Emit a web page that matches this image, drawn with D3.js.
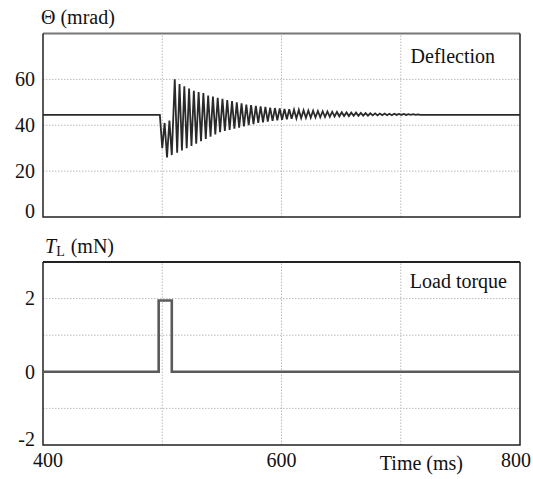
<!DOCTYPE html>
<html>

<head>
  <meta charset="utf-8">
  <style>
    body {
      margin: 0;
      background: #fff;
    }

    svg text {
      font-family: "Liberation Serif", "Times New Roman", serif;
      font-size: 20px;
      fill: #111;
    }

    .grid line {
      stroke: #bbb;
      stroke-width: 1;
      stroke-dasharray: 1.5, 1.5;
    }

    .trace {
      fill: none;
      stroke-linejoin: miter;
    }
  </style>
</head>

<body>
  <svg id="chart" width="533" height="479"></svg>

  <script src="https://d3js.org/d3.v7.min.js"></script>
  <script>
    // time axis
    var timeDomain = [400, 800];
    var timeTicks = [400, 600, 800];
    var timeGrid = [500, 600, 700];

    // deflection (mrad) - extrema
    var deflectionTime = [
      400, 498, 500, 502, 504, 506, 508,
      510.5, 512.5, 514.5, 516.5, 518.5, 520.5, 522.5, 524.5, 526.5, 528.5,
      530.5, 532.5, 534.5, 536.5, 538.5, 540.5, 542.5, 544.5, 546.5, 548.5,
      550.5, 552.5, 554.5, 556.5, 558.5, 560.5, 562.5, 564.5, 566.5, 568.5,
      570.5, 572.5, 574.5, 576.5, 578.5, 580.5, 582.5, 584.5, 586.5, 588.5,
      590.5, 592.5, 594.5, 596.5, 598.5, 600.5, 602.5, 604.5, 606.5, 608.5,
      610.5, 612.5, 614.5, 616.5, 618.5, 620.5, 622.5, 624.5, 626.5, 628.5,
      630.5, 632.5, 634.5, 636.5, 638.5, 640.5, 642.5, 644.5, 646.5, 648.5,
      650.5, 652.5, 654.5, 656.5, 658.5, 660.5, 662.5, 664.5, 666.5, 668.5,
      670.5, 672.5, 674.5, 676.5, 678.5, 680.5, 682.5, 684.5, 686.5, 688.5,
      690.5, 692.5, 694.5, 696.5, 698.5, 700.5, 702.5, 704.5, 706.5, 708.5,
      710.5, 712.5, 714.5, 716.5, 800
    ];
    var deflectionValue = [
      44.5, 44.5, 30, 41, 26, 42, 27,
      60, 28, 58, 29, 57, 30, 56, 31, 55, 32,
      54.5, 33, 54, 34, 53, 35, 52.5, 36, 52, 37,
      51.5, 37.5, 51, 38, 50.5, 38.5, 50, 39, 49.5, 39.5,
      49, 40, 48.8, 40.5, 48.5, 41, 48.2, 41.3, 48, 41.6,
      47.7, 41.9, 47.5, 42.2, 47.3, 42.4, 47.1, 42.6, 47, 42.8,
      46.8, 43, 46.7, 43.1, 46.5, 43.2, 46.4, 43.3, 46.3, 43.4,
      46.2, 43.5, 46.1, 43.6, 46, 43.7, 45.9, 43.8, 45.8, 43.9,
      45.7, 44, 45.6, 44, 45.5, 44.1, 45.5, 44.1, 45.4, 44.2,
      45.3, 44.2, 45.2, 44.3, 45.2, 44.3, 45.1, 44.4, 45.1, 44.4,
      45, 44.4, 45, 44.5, 44.9, 44.5, 44.9, 44.5, 44.8, 44.5,
      44.8, 44.5, 44.7, 44.5, 44.5
    ];
    var deflectionDomain = [0, 80];
    var deflectionTicks = [0, 20, 40, 60];
    var deflectionGrid = [20, 40, 60];

    // load torque (mN)
    var torqueTime = [400, 497, 497, 508, 508, 800];
    var torqueValue = [0, 0, 1.95, 1.95, 0, 0];
    var torqueDomain = [-2, 3];
    var torqueTicks = [-2, 0, 2];
    var torqueGrid = [-1, 1, 2];

    var svg = d3.select('#chart');

    var x = d3.scaleLinear()
      .domain(timeDomain)
      .range([43, 520]);

    var yTop = d3.scaleLinear()
      .domain(deflectionDomain)
      .range([217, 33.5]);

    var yBot = d3.scaleLinear()
      .domain(torqueDomain)
      .range([445, 262]);

    function drawPanel(y, gridVals, tickVals, times, values, color, width, topBorder) {
      var g = svg.append('g');
      var y0 = y.range()[0], y1 = y.range()[1];

      var grid = g.append('g').attr('class', 'grid');
      grid.selectAll('line.h')
        .data(gridVals)
        .join('line')
        .attr('class', 'h')
        .attr('x1', x.range()[0])
        .attr('x2', x.range()[1])
        .attr('y1', d => y(d))
        .attr('y2', d => y(d));
      grid.selectAll('line.v')
        .data(timeGrid)
        .join('line')
        .attr('class', 'v')
        .attr('x1', d => x(d))
        .attr('x2', d => x(d))
        .attr('y1', y0)
        .attr('y2', y1);

      // frame
      g.append('line')
        .attr('x1', x.range()[0]).attr('x2', x.range()[1])
        .attr('y1', y1).attr('y2', y1)
        .attr('stroke', topBorder).attr('stroke-width', 2);
      g.append('path')
        .attr('d', 'M' + x.range()[1] + ',' + y1 + 'V' + y0 + 'H' + x.range()[0] + 'V' + y1)
        .attr('fill', 'none')
        .attr('stroke', '#222')
        .attr('stroke-width', 1.5);

      var pts = times.map((t, i) => [t, values[i]]);
      var line = d3.line()
        .x(d => x(d[0]))
        .y(d => y(d[1]));

      g.append('path')
        .datum(pts)
        .attr('class', 'trace')
        .attr('d', line)
        .attr('stroke', color)
        .attr('stroke-width', width);

      // y tick labels
      g.selectAll('text.ytick')
        .data(tickVals)
        .join('text')
        .attr('class', 'ytick')
        .attr('x', 35)
        .attr('y', d => Math.min(y(d), y0 - 6))
        .attr('dy', '0.34em')
        .attr('text-anchor', 'end')
        .text(d => d);

      return g;
    }

    drawPanel(yTop, deflectionGrid, deflectionTicks, deflectionTime, deflectionValue, '#2a2a2a', 1.8, '#777');
    drawPanel(yBot, torqueGrid, torqueTicks, torqueTime, torqueValue, '#5a5a5a', 2.6, '#222');

    // x tick labels
    svg.selectAll('text.xtick')
      .data(timeTicks)
      .join('text')
      .attr('class', 'xtick')
      .attr('x', (d, i) => x(d) + (i === 0 ? 5 : i === timeTicks.length - 1 ? -4 : 0))
      .attr('y', 467)
      .attr('text-anchor', 'middle')
      .text(d => d);

    svg.append('text')
      .attr('x', 463)
      .attr('y', 470)
      .attr('text-anchor', 'end')
      .text('Time (ms)');

    // panel titles
    svg.append('text')
      .attr('x', 41)
      .attr('y', 24)
      .text('\u0398 (mrad)');

    var tl = svg.append('text')
      .attr('x', 45)
      .attr('y', 253);
    tl.append('tspan').attr('font-style', 'italic').text('T');
    tl.append('tspan').attr('font-size', '14px').attr('dy', 3).text('L');
    tl.append('tspan').attr('dy', -3).attr('dx', 6).text('(mN)');

    svg.append('text')
      .attr('x', 495)
      .attr('y', 63)
      .attr('text-anchor', 'end')
      .text('Deflection');

    svg.append('text')
      .attr('x', 507)
      .attr('y', 288)
      .attr('text-anchor', 'end')
      .text('Load torque');
  </script>
</body>

</html>
